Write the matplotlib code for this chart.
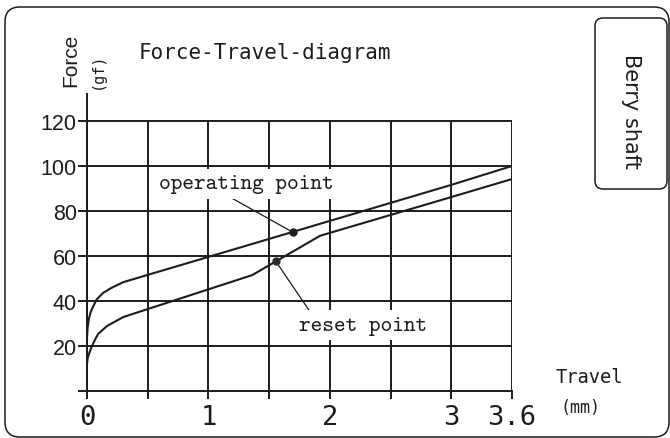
import numpy as np
import matplotlib
matplotlib.use("Agg")
import matplotlib.pyplot as plt
from matplotlib.patches import FancyBboxPatch

# values (travel in mm, force in gf)
upper_travel = [0, 0.005, 0.015, 0.03, 0.05, 0.08, 0.13, 0.2, 0.3, 3.0, 3.6]
upper_force = [24, 28, 32, 35, 37.5, 40.7, 43.5, 45.8, 48.4, 91.6, 100]

lower_travel = [0, 0.005, 0.016, 0.03, 0.049, 0.07, 0.091, 0.165, 0.3, 1.36, 1.92, 3.0, 3.6]
lower_force = [12, 14.5, 16.4, 18.6, 20.9, 23.2, 25.3, 28.9, 32.9, 51.5, 69, 86.2, 94.2]

operating_point = (1.694, 70.6)
reset_point = (1.554, 57.7)

grid_x = [0, 0.5, 1, 1.5, 2, 2.5, 3, 3.6]
x_labels = ["0", "", "1", "", "2", "", "3", "3.6"]
grid_y = [0, 20, 40, 60, 80, 100, 120]
y_labels = ["", "20", "40", "60", "80", "100", "120"]

ink = "#1c1c1c"


# the drawing has equal spacing per grid cell, last cell being 3 -> 3.6
def fwd(t):
    t = np.asarray(t, dtype=float)
    return np.where(t <= 3, t * 2, 6 + (t - 3) / 0.6)


def inv(p):
    p = np.asarray(p, dtype=float)
    return np.where(p <= 6, p / 2, 3 + (p - 6) * 0.6)


fig = plt.figure(figsize=(6.7, 4.39), dpi=100)

# outer rounded frame and the side label box (in inches)
fig.patches.append(FancyBboxPatch((0.05, 0.01), 6.64, 4.30,
                                  boxstyle="round,pad=0,rounding_size=0.15",
                                  transform=fig.dpi_scale_trans, fill=False,
                                  edgecolor=ink, lw=1.1))
fig.patches.append(FancyBboxPatch((5.95, 2.49), 0.72, 1.71,
                                  boxstyle="round,pad=0,rounding_size=0.08",
                                  transform=fig.dpi_scale_trans, fill=False,
                                  edgecolor=ink, lw=1.1))
fig.text(631 / 670, 1 - 111 / 439, "Berry shaft", rotation=-90, ha="center",
         va="center", fontsize=15, family="DejaVu Sans", color=ink)

ax = fig.add_axes([87 / 670, 47 / 439, 425 / 670, 297 / 439])
ax.set_xscale("function", functions=(fwd, inv))
ax.set_xlim(0, 3.6)
ax.set_ylim(0, 132)

for s in ["top", "right"]:
    ax.spines[s].set_visible(False)
for s in ["left", "bottom"]:
    ax.spines[s].set_linewidth(1.4)
    ax.spines[s].set_color(ink)

ax.set_xticks(grid_x)
ax.set_xticklabels(x_labels, family="DejaVu Sans Mono", fontsize=19.5)
ax.set_yticks(grid_y)
ax.set_yticklabels(y_labels, family="Liberation Sans", fontsize=15.5)
ax.tick_params(axis="x", direction="out", length=5.8, width=1.4, color=ink,
               labelcolor=ink, pad=3.5)
ax.tick_params(axis="y", direction="out", length=6.5, width=1.4, color=ink,
               labelcolor=ink, pad=0.8)
ax.grid(axis="y", color=ink, lw=1.4)
ax.vlines(grid_x, 0, 120, color=ink, lw=1.4, zorder=1)

ax.plot(upper_travel, upper_force, color=ink, lw=1.5, zorder=2)
ax.plot(lower_travel, lower_force, color=ink, lw=1.5, zorder=2)
ax.plot(*operating_point, "o", color=ink, ms=5, zorder=4)
ax.plot(*reset_point, "o", color="#2a2a2a", ms=5, zorder=4)

# leader lines
ax.annotate("", xy=operating_point, xytext=(1.16, 86.7),
            arrowprops=dict(arrowstyle="-", lw=0.9, color=ink,
                            shrinkA=0, shrinkB=0))
ax.annotate("", xy=reset_point, xytext=(1.86, 33.4),
            arrowprops=dict(arrowstyle="-", lw=0.9, color=ink,
                            shrinkA=0, shrinkB=0))

box = dict(facecolor="white", edgecolor="none", pad=4)
ax.text(1.314, 92, "operating point", ha="center", va="center",
        family="cmtt10", fontsize=16, color=ink, bbox=box, zorder=5)
ax.text(2.27, 29.3, "reset point", ha="center", va="center",
        family="cmtt10", fontsize=16, color=ink, bbox=box, zorder=5)

fig.text(139 / 670, 1 - 59 / 439, "Force-Travel-diagram", ha="left",
         va="baseline", family="DejaVu Sans Mono", fontsize=15, color=ink)
fig.text(71 / 670, 1 - 60 / 439, "Force", rotation=90, ha="center",
         va="center", family="Liberation Sans", fontsize=15, color=ink)
fig.text(97 / 670, 1 - 71 / 439, "(gf)", rotation=90, ha="center",
         va="center", family="DejaVu Sans Mono", fontsize=11, color=ink)
fig.text(589 / 670, 1 - 378 / 439, "Travel", ha="center", va="center",
         family="DejaVu Sans Mono", fontsize=13.5, color=ink)
fig.text(580 / 670, 1 - 408 / 439, "(mm)", ha="center", va="center",
         family="DejaVu Sans Mono", fontsize=12, color=ink)

fig.savefig("out.png", dpi=100)
